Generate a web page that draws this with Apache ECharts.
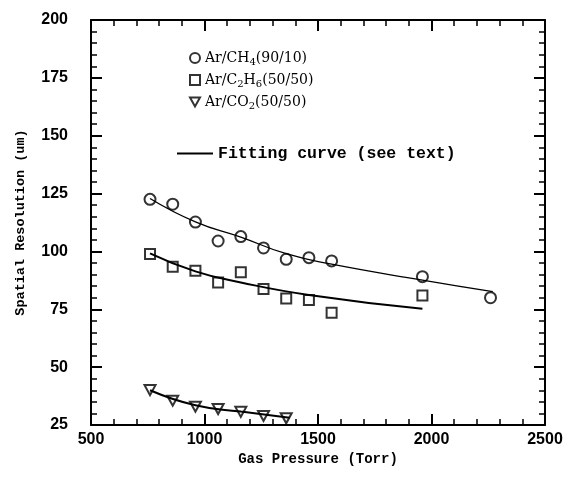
<!DOCTYPE html>
<html>
<head>
<meta charset="utf-8">
<script src="https://cdn.jsdelivr.net/npm/echarts@6/dist/echarts.min.js"></script>
<style>
  html, body { margin: 0; padding: 0; background: #fff; }
  #chart { width: 571px; height: 479px; }
</style>
</head>
<body>
<div id="chart"></div>
<script>
  // measured points (pressure in Torr, resolution in um)
  const pressureCH4 = [760, 860, 960, 1060, 1160, 1260, 1360, 1460, 1560, 1960, 2260];
  const resCH4 = [122.5, 120.4, 112.7, 104.5, 106.4, 101.5, 96.6, 97.3, 95.9, 89.1, 80];
  const pressureC2H6 = [760, 860, 960, 1060, 1160, 1260, 1360, 1460, 1560, 1960];
  const resC2H6 = [98.9, 93.4, 91.7, 86.6, 91, 83.8, 79.7, 79, 73.5, 81];
  const pressureCO2 = [760, 860, 960, 1060, 1160, 1260, 1360];
  const resCO2 = [40.1, 35.5, 32.9, 31.9, 30.7, 28.9, 27.9];

  // fitting curves
  const fitPressureCH4 = [760, 960, 1160, 1360, 1560, 1960, 2270];
  const fitCH4 = [122.9, 112.8, 106.2, 99, 94.5, 87.6, 82.6];
  const fitPressureC2H6 = [760, 960, 1160, 1460, 1960];
  const fitC2H6 = [99.2, 91.4, 86.6, 81.2, 75.2];
  const fitPressureCO2 = [760, 960, 1160, 1375];
  const fitCO2 = [40, 33.5, 30.8, 28.1];

  const xTicks = [500, 2500, 500];   // min, max, step
  const yTicks = [25, 200, 25];

  const nameCH4 = 'Ar/CH4(90/10)';
  const nameC2H6 = 'Ar/C2H6(50/50)';
  const nameCO2 = 'Ar/CO2(50/50)';
  const nameFit = 'Fitting curve (see text)';

  function pairs(xs, ys) {
    return xs.map(function (x, i) { return [x, ys[i]]; });
  }

  var typeFont = '"Liberation Mono", "Courier New", monospace';
  var serifFont = '"DejaVu Serif", "Liberation Serif", serif';
  var numFont = '"Liberation Sans", Arial, sans-serif';
  var triDown = 'path://M0,0 L10,0 L5,9 Z';

  var hollow = { color: '#fff', borderColor: '#000', borderWidth: 2 };

  var axisBase = {
    axisLine: { lineStyle: { color: '#000', width: 2 } },
    axisTick: { inside: true, length: 11, lineStyle: { color: '#000', width: 2 } },
    minorTick: { show: true, splitNumber: 5, length: 6, lineStyle: { color: '#000', width: 1.5 } },
    splitLine: { show: false }
  };

  var myChart = echarts.init(document.getElementById('chart'));
  var option = {
    animation: false,
    backgroundColor: '#fff',
    grid: { left: 91, right: 26, top: 20, bottom: 54 },
    xAxis: [
      Object.assign({
        type: 'value', min: xTicks[0], max: xTicks[1], interval: xTicks[2],
        name: 'Gas Pressure (Torr)', nameLocation: 'middle', nameGap: 27,
        nameTextStyle: { fontFamily: typeFont, fontWeight: 'bold', fontSize: 14, color: '#000' },
        axisLabel: {
          margin: 7, fontFamily: numFont, fontWeight: 'bold', fontSize: 16, color: '#000',
          formatter: function (v) { return String(v); }
        }
      }, axisBase),
      Object.assign({
        type: 'value', position: 'top', min: xTicks[0], max: xTicks[1], interval: xTicks[2],
        axisLabel: { show: false }
      }, axisBase)
    ],
    yAxis: [
      Object.assign({
        type: 'value', min: yTicks[0], max: yTicks[1], interval: yTicks[2],
        name: 'Spatial Resolution (um)', nameLocation: 'middle', nameGap: 63, nameRotate: 90,
        nameTextStyle: { fontFamily: typeFont, fontWeight: 'bold', fontSize: 13.5, color: '#000' },
        axisLabel: { margin: 23, fontFamily: numFont, fontWeight: 'bold', fontSize: 16, color: '#000' }
      }, axisBase),
      Object.assign({
        type: 'value', position: 'right', min: yTicks[0], max: yTicks[1], interval: yTicks[2],
        axisLabel: { show: false }
      }, axisBase)
    ],
    legend: [
      {
        orient: 'vertical', left: 184, top: 45, itemGap: 5,
        itemWidth: 10, itemHeight: 10,
        data: [
          { name: nameCH4, icon: 'circle' },
          { name: nameC2H6, icon: 'rect' },
          { name: nameCO2, icon: triDown }
        ],
        formatter: function (n) {
          if (n === nameCH4) return 'Ar/CH{s|4}(90/10)';
          if (n === nameC2H6) return 'Ar/C{s|2}H{s|6}(50/50)';
          return 'Ar/CO{s|2}(50/50)';
        },
        textStyle: {
          fontFamily: serifFont, fontSize: 14, color: '#000', lineHeight: 16,
          rich: { s: { fontFamily: serifFont, fontSize: 10, padding: [8, 0, 0, 0] } }
        }
      },
      {
        left: 172, top: 140,
        itemWidth: 36, itemHeight: 2, icon: 'rect',
        data: [nameFit],
        textStyle: { fontFamily: typeFont, fontWeight: 'bold', fontSize: 16.5, color: '#000' }
      }
    ],
    series: [
      {
        name: nameFit, type: 'line', smooth: true, showSymbol: false,
        lineStyle: { color: '#000', width: 1.3 }, itemStyle: { color: '#000' },
        data: pairs(fitPressureCH4, fitCH4)
      },
      {
        name: nameFit, type: 'line', smooth: true, showSymbol: false,
        lineStyle: { color: '#000', width: 2 }, itemStyle: { color: '#000' },
        data: pairs(fitPressureC2H6, fitC2H6)
      },
      {
        name: nameFit, type: 'line', smooth: true, showSymbol: false,
        lineStyle: { color: '#000', width: 2 }, itemStyle: { color: '#000' },
        data: pairs(fitPressureCO2, fitCO2)
      },
      {
        name: nameCH4, type: 'scatter', symbol: 'circle', symbolSize: 11,
        itemStyle: hollow, data: pairs(pressureCH4, resCH4)
      },
      {
        name: nameC2H6, type: 'scatter', symbol: 'rect', symbolSize: 10,
        itemStyle: hollow, data: pairs(pressureC2H6, resC2H6)
      },
      {
        name: nameCO2, type: 'scatter', symbol: triDown, symbolSize: [11, 10],
        itemStyle: hollow, data: pairs(pressureCO2, resCO2)
      }
    ]
  };
  myChart.setOption(option);

  window.addEventListener('resize', function () {
    myChart.resize();
  });
</script>
</body>
</html>
